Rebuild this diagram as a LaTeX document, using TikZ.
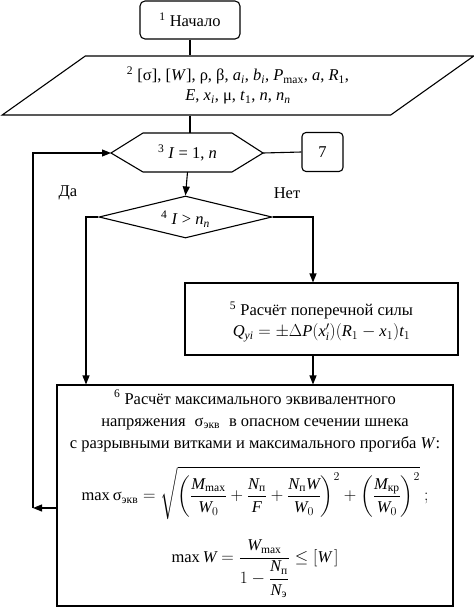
\documentclass[tikz,border=0pt]{standalone}
\usepackage{amsmath}
\usepackage{fontspec}
\setmainfont{Liberation Serif}
\usetikzlibrary{arrows.meta,shapes.geometric}
\newcommand\tv[1]{\textit{#1}}
\newcommand\up[1]{\text{#1}}
\begin{document}
\begin{tikzpicture}[x=1pt,y=-1pt, line width=1.1pt,
  font=\fontsize{16.5}{20}\selectfont,
  arr/.style={-{Triangle[length=9pt,width=7pt]}},
  box/.style={draw, align=center, inner sep=0pt},
  txt/.style={align=center, inner sep=0pt}]
\useasboundingbox (0,0) rectangle (474,608);

% 1 start
\node[box, rounded corners=5pt, minimum width=100pt, minimum height=38pt] (start) at (190,20) {\textsuperscript{1} Начало};

% 2 input parallelogram
\node[draw, trapezium, trapezium left angle=31.8, trapezium right angle=148.2,
      trapezium stretches=true, minimum width=472pt, minimum height=59pt,
      inner sep=0pt, align=center] (inp) at (238,85.5)
  {\textsuperscript{2} [σ], [\tv{W}], ρ, β, \tv{a}\textsubscript{\tv{i}}, \tv{b}\textsubscript{\tv{i}}, \tv{P}\textsubscript{max}, \tv{a}, \tv{R}\textsubscript{1},\\
   \tv{E}, \tv{x}\textsubscript{\tv{i}}, μ, \tv{t}\textsubscript{1}, \tv{n}, \tv{n}\textsubscript{\tv{n}}};

% 3 hexagon (loop)
\coordinate (hxN) at (187.5,133);
\coordinate (hxS) at (187.5,172);
\coordinate (hxW) at (111,153);
\coordinate (hxE) at (263,153);
\draw (143,133) -- (232,133) -- (hxE) -- (232,172) -- (143,172) -- (hxW) -- cycle;
\node[txt] (hx) at (187.5,153) {\textsuperscript{3} \tv{I} = 1, \tv{n}};

% 7 end
\node[box, rounded corners=4pt, minimum width=41pt, minimum height=39pt] (b7) at (322.5,152) {7};

% 4 decision
\node[draw, diamond, minimum width=173pt, minimum height=42pt, inner sep=0pt, aspect=4] (d4) at (185.5,217) {};
\node[txt] (d4t) at (185.5,219) {\textsuperscript{4} \tv{I} > \tv{n}\textsubscript{\tv{n}}};

\node[txt] (yes) at (68,193) {Да};
\node[txt] (no) at (287,193) {Нет};

% 5
\node[box, minimum width=273pt, minimum height=72pt] (b5) at (321.5,319) {};
\node[txt] (t5) at (321.5,322)
  {\textsuperscript{5} Расчёт поперечной силы\\[1pt]
   $\tv{Q}_{\tv{yi}} = \pm\Delta \tv{P}(\tv{x}'_{\tv{i}})(\tv{R}_1 - \tv{x}_1)\tv{t}_1$};

% 6
\node[draw, minimum width=396pt, minimum height=221pt, inner sep=0pt] (b6) at (255,495.5) {};
\node[txt, font=\fontsize{16.5}{22}\selectfont] (t6) at (255,421)
  {\textsuperscript{6} Расчёт максимального эквивалентного\\
   напряжения $\;\up{σ}_{\up{экв}}\;$ в опасном сечении шнека\\
   с разрывными витками и максимального прогиба \tv{W}:};
\node[txt] (f1) at (255,493)
  {$\displaystyle \max \up{σ}_{\up{экв}} = \sqrt{\left(\frac{\tv{M}_{\up{max}}}{\tv{W}_0}+\frac{\tv{N}_{\up{п}}}{\tv{F}}+\frac{\tv{N}_{\up{п}}\tv{W}}{\tv{W}_0}\right)^{2}+\left(\frac{\tv{M}_{\up{кр}}}{\tv{W}_0}\right)^{2}}\ ;$};
\node[txt] (f2) at (255,569)
  {$\displaystyle \max \tv{W} = \frac{\tv{W}_{\up{max}}}{1-\dfrac{\tv{N}_{\up{п}}}{\tv{N}_{\up{э}}}} \le [\tv{W}\,]$};

% connectors
\draw (start) -- (start.south |- inp.north);
\draw (start.south |- inp.south) -- (start.south |- hxN);
\draw[arr] (hxS) -- (d4.north);
\draw (hxE) -- (b7.west);
\coordinate (yesX) at (86,217);
\coordinate (noX) at (313,217);
\draw[arr] (d4.west) -| (yesX |- b6.north);
\draw[arr] (d4.east) -| (noX |- b5.north);
\draw[arr] (noX |- b5.south) -- (noX |- b6.north);
\coordinate (loopL) at (33,508);
\draw[arr] (b6.west |- loopL) -- (loopL);
\draw[arr] (loopL) -- (loopL |- hxW) -- (hxW);
\end{tikzpicture}
\end{document}
